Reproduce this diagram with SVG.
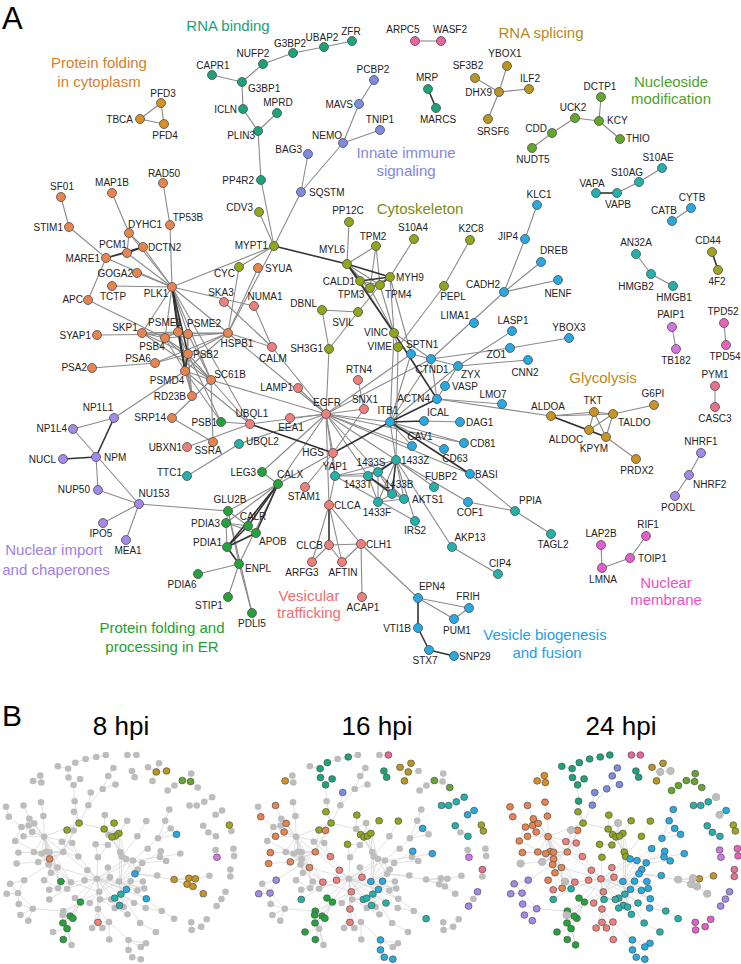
<svg xmlns="http://www.w3.org/2000/svg" xmlns:xlink="http://www.w3.org/1999/xlink" width="741" height="964" viewBox="0 0 741 964" style="--r:4.5px;--sw:0.8;--fs:10px">
<style>
.nd circle{stroke:#4d4d4d;stroke-width:var(--sw);r:var(--r)}
.nd text{font-family:"Liberation Sans",Arial,sans-serif;font-size:var(--fs);fill:#222}
.tm{text-anchor:middle}.te{text-anchor:end}
.c1{fill:#E8844F}.c2{fill:#D8901E}.c3{fill:#1DA37B}.c4{fill:#7E8BE3}.c5{fill:#B9961F}.c6{fill:#63A82B}.c7{fill:#92A61A}.c8{fill:#EE7F7A}.c9{fill:#27A9E1}.c10{fill:#22B2AB}.c11{fill:#C9941F}.c12{fill:#E35FCF}.c13{fill:#A389E9}.c14{fill:#23A33B}.c15{fill:#E8659D}.c16{fill:#A3A51F}.c17{fill:#D075E2}.c18{fill:#E863B6}.c19{fill:#E8708F}
.grp{font-family:"Liberation Sans",Arial,sans-serif;font-size:15px;text-anchor:middle}
.ttl{font-family:"Liberation Sans",Arial,sans-serif;font-size:26px;text-anchor:middle;fill:#000}
.pl{font-family:"Liberation Sans",Arial,sans-serif;fill:#000}
.bn circle{stroke:#555;stroke-width:2}
</style>
<defs>
<path id="gdots" d="M161 103h0M140 119h0M164 124h0M212 75h0M242 82h0M243 109h0M258 131h0M263 64h0M293 53h0M324 47h0M352 41h0M277 113h0M261 180h0M259 212h0M274 246h0M374 80h0M359 104h0M380 130h0M343 143h0M308 154h0M301 192h0M415 41h0M441 41h0M428 89h0M436 108h0M475 78h0M499 92h0M488 119h0M507 66h0M529 89h0M601 97h0M575 118h0M599 121h0M620 139h0M552 133h0M532 148h0M662 168h0M639 182h0M596 193h0M617 193h0M691 208h0M672 221h0M537 205h0M525 239h0M541 262h0M558 280h0M504 292h0M636 254h0M651 274h0M673 286h0M712 252h0M718 270h0M672 327h0M676 349h0M724 323h0M726 345h0M715 386h0M715 407h0M701 453h0M689 475h0M675 496h0M601 545h0M646 536h0M630 558h0M602 568h0M515 511h0M551 534h0M498 574h0M551 416h0M594 412h0M613 414h0M654 405h0M589 430h0M606 437h0M636 459h0M502 404h0M512 331h0M569 338h0M510 348h0M528 360h0M347 264h0M376 246h0M414 239h0M470 240h0M349 222h0M390 277h0M360 281h0M370 288h0M380 285h0M444 286h0M322 310h0M358 312h0M394 333h0M398 347h0M329 349h0M411 354h0M474 323h0M431 359h0M458 366h0M445 386h0M437 399h0M424 421h0M460 422h0M390 422h0M412 446h0M444 449h0M464 443h0M470 474h0M254 306h0M258 268h0M272 347h0M358 380h0M298 388h0M364 409h0M326 414h0M290 418h0M250 424h0M333 453h0M239 444h0M378 472h0M396 460h0M335 476h0M278 484h0M305 487h0M368 476h0M392 494h0M404 499h0M378 502h0M434 487h0M468 502h0M415 521h0M452 547h0M329 505h0M329 545h0M361 544h0M312 562h0M342 562h0M362 597h0M418 598h0M469 608h0M454 619h0M418 628h0M429 650h0M454 656h0M256 533h0M248 526h0M239 564h0M252 613h0M98 490h0M139 504h0M103 523h0M126 540h0M228 511h0M226 523h0M227 547h0M198 574h0M228 597h0M187 476h0M262 472h0M127 253h0M143 247h0M106 258h0M137 273h0M112 286h0M172 287h0M88 300h0M239 267h0M224 302h0M142 333h0M97 335h0M178 332h0M188 334h0M165 338h0M228 333h0M188 354h0M155 363h0M92 368h0M185 371h0M211 380h0M192 396h0M172 418h0M221 422h0M213 442h0M187 447h0M114 418h0M73 429h0M63 459h0M96 457h0M69 227h0M61 197h0M112 193h0M163 183h0M170 225h0M129 233h0"/>
</defs>
<rect width="741" height="964" fill="#fff"/>
<text class="pl" x="2" y="29" font-size="31">A</text>
<text class="pl" x="2" y="726" font-size="30">B</text>

<g id="connectors" fill="none">
<g stroke="#8a8a8a" stroke-width="1.1"><g id="ethin">
<line x1="140" y1="119" x2="161" y2="103"/><line x1="140" y1="119" x2="164" y2="124"/><line x1="161" y1="103" x2="164" y2="124"/>
<line x1="212" y1="75" x2="242" y2="82"/><line x1="242" y1="82" x2="263" y2="64"/><line x1="263" y1="64" x2="293" y2="53"/><line x1="293" y1="53" x2="324" y2="47"/><line x1="324" y1="47" x2="352" y2="41"/><line x1="242" y1="82" x2="243" y2="109"/><line x1="243" y1="109" x2="258" y2="131"/><line x1="258" y1="131" x2="277" y2="113"/><line x1="258" y1="131" x2="261" y2="180"/><line x1="261" y1="180" x2="274" y2="246"/>
<line x1="259" y1="212" x2="274" y2="246"/><line x1="301" y1="192" x2="274" y2="246"/><line x1="374" y1="80" x2="359" y2="104"/><line x1="359" y1="104" x2="343" y2="143"/><line x1="343" y1="143" x2="380" y2="130"/><line x1="343" y1="143" x2="301" y2="192"/><line x1="308" y1="154" x2="301" y2="192"/>
<line x1="415" y1="41" x2="441" y2="41"/>
<line x1="475" y1="78" x2="499" y2="92"/><line x1="499" y1="92" x2="507" y2="66"/><line x1="499" y1="92" x2="529" y2="89"/><line x1="499" y1="92" x2="488" y2="119"/>
<line x1="532" y1="148" x2="552" y2="133"/><line x1="552" y1="133" x2="575" y2="118"/><line x1="575" y1="118" x2="599" y2="121"/><line x1="599" y1="121" x2="601" y2="97"/><line x1="599" y1="121" x2="620" y2="139"/>
<line x1="617" y1="193" x2="639" y2="182"/><line x1="639" y1="182" x2="662" y2="168"/><line x1="672" y1="221" x2="691" y2="208"/>
<line x1="636" y1="254" x2="651" y2="274"/><line x1="651" y1="274" x2="673" y2="286"/><line x1="672" y1="327" x2="676" y2="349"/><line x1="724" y1="323" x2="726" y2="345"/><line x1="715" y1="386" x2="715" y2="407"/><line x1="701" y1="453" x2="689" y2="475"/><line x1="689" y1="475" x2="675" y2="496"/>
<line x1="601" y1="545" x2="602" y2="568"/><line x1="602" y1="568" x2="630" y2="558"/><line x1="630" y1="558" x2="646" y2="536"/>
<line x1="537" y1="205" x2="525" y2="239"/><line x1="525" y1="239" x2="504" y2="292"/><line x1="504" y1="292" x2="541" y2="262"/><line x1="504" y1="292" x2="558" y2="280"/><line x1="504" y1="292" x2="431" y2="359"/>
<line x1="444" y1="286" x2="470" y2="240"/><line x1="444" y1="286" x2="398" y2="347"/><line x1="414" y1="239" x2="390" y2="277"/><line x1="349" y1="222" x2="347" y2="264"/>
<line x1="376" y1="246" x2="347" y2="264"/><line x1="376" y1="246" x2="370" y2="288"/><line x1="376" y1="246" x2="380" y2="285"/><line x1="347" y1="264" x2="370" y2="288"/><line x1="347" y1="264" x2="380" y2="285"/><line x1="390" y1="277" x2="370" y2="288"/><line x1="360" y1="281" x2="370" y2="288"/><line x1="360" y1="281" x2="380" y2="285"/><line x1="370" y1="288" x2="380" y2="285"/><line x1="360" y1="281" x2="394" y2="333"/><line x1="370" y1="288" x2="394" y2="333"/><line x1="380" y1="285" x2="394" y2="333"/><line x1="390" y1="277" x2="394" y2="333"/><line x1="390" y1="277" x2="411" y2="354"/>
<line x1="380" y1="285" x2="358" y2="312"/><line x1="322" y1="310" x2="358" y2="312"/><line x1="322" y1="310" x2="329" y2="349"/><line x1="358" y1="312" x2="329" y2="349"/><line x1="329" y1="349" x2="326" y2="414"/>
<line x1="394" y1="333" x2="398" y2="347"/><line x1="394" y1="333" x2="431" y2="359"/><line x1="394" y1="333" x2="390" y2="422"/><line x1="398" y1="347" x2="396" y2="460"/><line x1="411" y1="354" x2="390" y2="422"/><line x1="411" y1="354" x2="431" y2="359"/>
<line x1="431" y1="359" x2="510" y2="348"/><line x1="510" y1="348" x2="569" y2="338"/><line x1="512" y1="331" x2="458" y2="366"/><line x1="528" y1="360" x2="458" y2="366"/><line x1="431" y1="359" x2="458" y2="366"/><line x1="458" y1="366" x2="445" y2="386"/><line x1="445" y1="386" x2="437" y2="399"/><line x1="431" y1="359" x2="437" y2="399"/><line x1="437" y1="399" x2="502" y2="404"/><line x1="437" y1="399" x2="551" y2="416"/>
<line x1="551" y1="416" x2="594" y2="412"/><line x1="551" y1="416" x2="613" y2="414"/><line x1="551" y1="416" x2="589" y2="430"/><line x1="594" y1="412" x2="613" y2="414"/><line x1="594" y1="412" x2="589" y2="430"/><line x1="594" y1="412" x2="606" y2="437"/><line x1="613" y1="414" x2="589" y2="430"/><line x1="613" y1="414" x2="606" y2="437"/><line x1="613" y1="414" x2="654" y2="405"/><line x1="589" y1="430" x2="606" y2="437"/><line x1="606" y1="437" x2="636" y2="459"/>
<line x1="390" y1="422" x2="431" y2="359"/><line x1="390" y1="422" x2="458" y2="366"/><line x1="424" y1="421" x2="460" y2="422"/><line x1="390" y1="422" x2="412" y2="446"/><line x1="390" y1="422" x2="464" y2="443"/><line x1="390" y1="422" x2="444" y2="449"/><line x1="390" y1="422" x2="326" y2="414"/><line x1="390" y1="422" x2="396" y2="460"/>
<line x1="326" y1="414" x2="298" y2="388"/><line x1="326" y1="414" x2="290" y2="418"/><line x1="326" y1="414" x2="250" y2="424"/><line x1="326" y1="414" x2="364" y2="409"/><line x1="326" y1="414" x2="333" y2="453"/><line x1="326" y1="414" x2="335" y2="476"/><line x1="326" y1="414" x2="378" y2="472"/><line x1="326" y1="414" x2="396" y2="460"/><line x1="326" y1="414" x2="329" y2="505"/><line x1="326" y1="414" x2="411" y2="354"/><line x1="326" y1="414" x2="431" y2="359"/><line x1="326" y1="414" x2="412" y2="446"/><line x1="326" y1="414" x2="464" y2="443"/><line x1="326" y1="414" x2="211" y2="380"/><line x1="326" y1="414" x2="228" y2="333"/><line x1="326" y1="414" x2="272" y2="347"/><line x1="326" y1="414" x2="262" y2="472"/><line x1="326" y1="414" x2="278" y2="484"/><line x1="326" y1="414" x2="239" y2="444"/><line x1="326" y1="414" x2="470" y2="474"/><line x1="326" y1="414" x2="368" y2="476"/>
<line x1="358" y1="380" x2="364" y2="409"/><line x1="364" y1="409" x2="333" y2="453"/><line x1="333" y1="453" x2="305" y2="487"/><line x1="333" y1="453" x2="278" y2="484"/><line x1="333" y1="453" x2="335" y2="476"/><line x1="239" y1="444" x2="187" y2="476"/><line x1="187" y1="447" x2="250" y2="424"/>
<line x1="335" y1="476" x2="378" y2="472"/><line x1="335" y1="476" x2="368" y2="476"/><line x1="335" y1="476" x2="329" y2="505"/><line x1="335" y1="476" x2="396" y2="460"/><line x1="335" y1="476" x2="415" y2="521"/>
<line x1="378" y1="472" x2="368" y2="476"/><line x1="378" y1="472" x2="392" y2="494"/><line x1="378" y1="472" x2="378" y2="502"/><line x1="396" y1="460" x2="368" y2="476"/><line x1="396" y1="460" x2="378" y2="502"/><line x1="396" y1="460" x2="404" y2="499"/><line x1="368" y1="476" x2="378" y2="502"/><line x1="392" y1="494" x2="378" y2="502"/><line x1="392" y1="494" x2="404" y2="499"/><line x1="378" y1="502" x2="404" y2="499"/><line x1="368" y1="476" x2="404" y2="499"/><line x1="378" y1="472" x2="404" y2="499"/><line x1="396" y1="460" x2="415" y2="521"/><line x1="396" y1="460" x2="434" y2="487"/><line x1="396" y1="460" x2="468" y2="502"/><line x1="396" y1="460" x2="452" y2="547"/>
<line x1="468" y1="502" x2="515" y2="511"/><line x1="470" y1="474" x2="515" y2="511"/><line x1="515" y1="511" x2="551" y2="534"/><line x1="452" y1="547" x2="498" y2="574"/>
<line x1="329" y1="505" x2="361" y2="544"/><line x1="329" y1="505" x2="312" y2="562"/><line x1="329" y1="505" x2="342" y2="562"/><line x1="329" y1="545" x2="361" y2="544"/><line x1="329" y1="545" x2="312" y2="562"/><line x1="329" y1="545" x2="342" y2="562"/><line x1="361" y1="544" x2="342" y2="562"/><line x1="361" y1="544" x2="362" y2="597"/><line x1="361" y1="544" x2="418" y2="598"/>
<line x1="418" y1="598" x2="469" y2="608"/><line x1="418" y1="598" x2="454" y2="619"/><line x1="469" y1="608" x2="454" y2="619"/>
<line x1="98" y1="490" x2="96" y2="457"/><line x1="139" y1="504" x2="73" y2="429"/><line x1="98" y1="490" x2="139" y2="504"/><line x1="139" y1="504" x2="103" y2="523"/><line x1="139" y1="504" x2="126" y2="540"/><line x1="139" y1="504" x2="228" y2="511"/><line x1="73" y1="429" x2="114" y2="418"/><line x1="114" y1="418" x2="185" y2="371"/>
<line x1="228" y1="511" x2="278" y2="484"/><line x1="228" y1="511" x2="248" y2="526"/><line x1="228" y1="511" x2="226" y2="523"/><line x1="228" y1="511" x2="239" y2="564"/><line x1="226" y1="523" x2="248" y2="526"/><line x1="226" y1="523" x2="227" y2="547"/><line x1="226" y1="523" x2="278" y2="484"/><line x1="226" y1="523" x2="256" y2="533"/><line x1="198" y1="574" x2="239" y2="564"/><line x1="228" y1="597" x2="239" y2="564"/><line x1="239" y1="564" x2="252" y2="613"/><line x1="239" y1="564" x2="278" y2="484"/><line x1="248" y1="526" x2="256" y2="533"/><line x1="262" y1="472" x2="278" y2="484"/><line x1="228" y1="511" x2="252" y2="613"/>
<line x1="172" y1="287" x2="170" y2="225"/><line x1="172" y1="287" x2="129" y2="233"/><line x1="172" y1="287" x2="127" y2="253"/><line x1="172" y1="287" x2="143" y2="247"/><line x1="172" y1="287" x2="106" y2="258"/><line x1="172" y1="287" x2="137" y2="273"/><line x1="172" y1="287" x2="112" y2="286"/><line x1="172" y1="287" x2="274" y2="246"/><line x1="172" y1="287" x2="254" y2="306"/><line x1="172" y1="287" x2="188" y2="334"/><line x1="172" y1="287" x2="165" y2="338"/><line x1="172" y1="287" x2="192" y2="396"/><line x1="172" y1="287" x2="211" y2="380"/><line x1="172" y1="287" x2="142" y2="333"/><line x1="172" y1="287" x2="228" y2="333"/><line x1="172" y1="287" x2="250" y2="424"/>
<line x1="129" y1="233" x2="127" y2="253"/><line x1="129" y1="233" x2="143" y2="247"/><line x1="112" y1="193" x2="129" y2="233"/><line x1="163" y1="183" x2="170" y2="225"/><line x1="61" y1="197" x2="69" y2="227"/><line x1="69" y1="227" x2="106" y2="258"/><line x1="106" y1="258" x2="127" y2="253"/><line x1="106" y1="258" x2="88" y2="300"/><line x1="88" y1="300" x2="165" y2="338"/>
<line x1="97" y1="335" x2="188" y2="334"/><line x1="92" y1="368" x2="155" y2="363"/><line x1="155" y1="363" x2="228" y2="333"/><line x1="155" y1="363" x2="188" y2="354"/>
<line x1="178" y1="332" x2="188" y2="334"/><line x1="178" y1="332" x2="165" y2="338"/><line x1="178" y1="332" x2="188" y2="354"/><line x1="188" y1="334" x2="188" y2="354"/><line x1="188" y1="334" x2="185" y2="371"/><line x1="188" y1="334" x2="228" y2="333"/><line x1="165" y1="338" x2="228" y2="333"/><line x1="142" y1="333" x2="178" y2="332"/><line x1="142" y1="333" x2="165" y2="338"/><line x1="142" y1="333" x2="228" y2="333"/><line x1="142" y1="333" x2="188" y2="354"/><line x1="142" y1="333" x2="211" y2="380"/><line x1="188" y1="354" x2="228" y2="333"/><line x1="188" y1="354" x2="211" y2="380"/><line x1="185" y1="371" x2="211" y2="380"/><line x1="165" y1="338" x2="188" y2="354"/><line x1="165" y1="338" x2="185" y2="371"/><line x1="165" y1="338" x2="211" y2="380"/><line x1="192" y1="396" x2="178" y2="332"/><line x1="192" y1="396" x2="188" y2="354"/><line x1="192" y1="396" x2="185" y2="371"/><line x1="185" y1="371" x2="228" y2="333"/><line x1="188" y1="354" x2="250" y2="424"/><line x1="185" y1="371" x2="250" y2="424"/><line x1="188" y1="334" x2="211" y2="380"/><line x1="221" y1="422" x2="188" y2="354"/><line x1="221" y1="422" x2="185" y2="371"/><line x1="221" y1="422" x2="250" y2="424"/>
<line x1="211" y1="380" x2="213" y2="442"/><line x1="172" y1="418" x2="211" y2="380"/><line x1="172" y1="418" x2="213" y2="442"/>
<line x1="228" y1="333" x2="258" y2="268"/><line x1="228" y1="333" x2="239" y2="267"/><line x1="239" y1="267" x2="274" y2="246"/><line x1="228" y1="333" x2="274" y2="246"/><line x1="228" y1="333" x2="272" y2="347"/><line x1="272" y1="347" x2="254" y2="306"/><line x1="224" y1="302" x2="272" y2="347"/>
</g></g>
<g stroke="#333" stroke-width="1.6"><g id="ethick">
<line x1="274" y1="246" x2="347" y2="264"/><line x1="347" y1="264" x2="390" y2="277"/><line x1="347" y1="264" x2="394" y2="333"/><line x1="347" y1="264" x2="360" y2="281"/><line x1="390" y1="277" x2="360" y2="281"/><line x1="390" y1="277" x2="380" y2="285"/>
<line x1="394" y1="333" x2="437" y2="399"/><line x1="390" y1="422" x2="437" y2="399"/><line x1="390" y1="422" x2="424" y2="421"/><line x1="390" y1="422" x2="470" y2="474"/><line x1="390" y1="422" x2="333" y2="453"/><line x1="333" y1="453" x2="250" y2="424"/>
<line x1="396" y1="460" x2="392" y2="494"/><line x1="368" y1="476" x2="392" y2="494"/><line x1="378" y1="472" x2="396" y2="460"/>
<line x1="96" y1="457" x2="63" y2="459"/><line x1="96" y1="457" x2="114" y2="418"/>
<line x1="278" y1="484" x2="248" y2="526"/><line x1="278" y1="484" x2="256" y2="533"/><line x1="278" y1="484" x2="227" y2="547"/><line x1="227" y1="547" x2="239" y2="564"/><line x1="227" y1="547" x2="248" y2="526"/><line x1="227" y1="547" x2="256" y2="533"/>
<line x1="418" y1="598" x2="418" y2="628"/><line x1="418" y1="628" x2="429" y2="650"/><line x1="429" y1="650" x2="454" y2="656"/>
<line x1="551" y1="416" x2="606" y2="437"/><line x1="106" y1="258" x2="143" y2="247"/><line x1="127" y1="253" x2="143" y2="247"/>
<line x1="172" y1="287" x2="178" y2="332"/><line x1="172" y1="287" x2="188" y2="354"/><line x1="172" y1="287" x2="185" y2="371"/><line x1="178" y1="332" x2="185" y2="371"/><line x1="188" y1="354" x2="185" y2="371"/>
<line x1="329" y1="505" x2="329" y2="545"/><line x1="428" y1="89" x2="436" y2="108"/><line x1="596" y1="193" x2="617" y2="193"/><line x1="712" y1="252" x2="718" y2="270"/>
</g></g>
</g>

<g id="nodes">
<g id="n-PFD3" class="nd"><circle class="c2" cx="161" cy="103" r="4.5"/><text class="tm" x="163" y="97">PFD3</text></g>
<g id="n-TBCA" class="nd"><circle class="c2" cx="140" cy="119" r="4.5"/><text class="te" x="133" y="123">TBCA</text></g>
<g id="n-PFD4" class="nd"><circle class="c2" cx="164" cy="124" r="4.5"/><text class="tm" x="165" y="139">PFD4</text></g>
<g id="n-CAPR1" class="nd"><circle class="c3" cx="212" cy="75" r="4.5"/><text class="tm" x="213" y="69">CAPR1</text></g>
<g id="n-G3BP1" class="nd"><circle class="c3" cx="242" cy="82" r="4.5"/><text x="248" y="92">G3BP1</text></g>
<g id="n-ICLN" class="nd"><circle class="c3" cx="243" cy="109" r="4.5"/><text class="te" x="237" y="113">ICLN</text></g>
<g id="n-PLIN3" class="nd"><circle class="c3" cx="258" cy="131" r="4.5"/><text class="te" x="255" y="139">PLIN3</text></g>
<g id="n-NUFP2" class="nd"><circle class="c3" cx="263" cy="64" r="4.5"/><text class="tm" x="253" y="57">NUFP2</text></g>
<g id="n-G3BP2" class="nd"><circle class="c3" cx="293" cy="53" r="4.5"/><text class="tm" x="290" y="47">G3BP2</text></g>
<g id="n-UBAP2" class="nd"><circle class="c3" cx="324" cy="47" r="4.5"/><text class="tm" x="322" y="41">UBAP2</text></g>
<g id="n-ZFR" class="nd"><circle class="c3" cx="352" cy="41" r="4.5"/><text class="tm" x="351" y="35">ZFR</text></g>
<g id="n-MPRD" class="nd"><circle class="c3" cx="277" cy="113" r="4.5"/><text class="tm" x="278" y="106">MPRD</text></g>
<g id="n-PP4R2" class="nd"><circle class="c3" cx="261" cy="180" r="4.5"/><text class="te" x="254" y="184">PP4R2</text></g>
<g id="n-CDV3" class="nd"><circle class="c7" cx="259" cy="212" r="4.5"/><text class="te" x="253" y="211">CDV3</text></g>
<g id="n-MYPT1" class="nd"><circle class="c7" cx="274" cy="246" r="4.5"/><text class="te" x="268" y="249">MYPT1</text></g>
<g id="n-PCBP2" class="nd"><circle class="c4" cx="374" cy="80" r="4.5"/><text class="tm" x="373" y="73">PCBP2</text></g>
<g id="n-MAVS" class="nd"><circle class="c4" cx="359" cy="104" r="4.5"/><text class="te" x="353" y="108">MAVS</text></g>
<g id="n-TNIP1" class="nd"><circle class="c4" cx="380" cy="130" r="4.5"/><text class="tm" x="380" y="123">TNIP1</text></g>
<g id="n-NEMO" class="nd"><circle class="c4" cx="343" cy="143" r="4.5"/><text class="tm" x="327" y="139">NEMO</text></g>
<g id="n-BAG3" class="nd"><circle class="c4" cx="308" cy="154" r="4.5"/><text class="te" x="302" y="153">BAG3</text></g>
<g id="n-SQSTM" class="nd"><circle class="c4" cx="301" cy="192" r="4.5"/><text x="309" y="196">SQSTM</text></g>
<g id="n-ARPC5" class="nd"><circle class="c15" cx="415" cy="41" r="4.5"/><text class="tm" x="403" y="33">ARPC5</text></g>
<g id="n-WASF2" class="nd"><circle class="c15" cx="441" cy="41" r="4.5"/><text class="tm" x="450" y="33">WASF2</text></g>
<g id="n-MRP" class="nd"><circle class="c3" cx="428" cy="89" r="4.5"/><text class="tm" x="427" y="81">MRP</text></g>
<g id="n-MARCS" class="nd"><circle class="c3" cx="436" cy="108" r="4.5"/><text class="tm" x="438" y="123">MARCS</text></g>
<g id="n-SF3B2" class="nd"><circle class="c5" cx="475" cy="78" r="4.5"/><text class="tm" x="468" y="69">SF3B2</text></g>
<g id="n-DHX9" class="nd"><circle class="c5" cx="499" cy="92" r="4.5"/><text class="te" x="492" y="96">DHX9</text></g>
<g id="n-SRSF6" class="nd"><circle class="c5" cx="488" cy="119" r="4.5"/><text class="tm" x="493" y="135">SRSF6</text></g>
<g id="n-YBOX1" class="nd"><circle class="c5" cx="507" cy="66" r="4.5"/><text class="tm" x="505" y="57">YBOX1</text></g>
<g id="n-ILF2" class="nd"><circle class="c5" cx="529" cy="89" r="4.5"/><text class="tm" x="530" y="82">ILF2</text></g>
<g id="n-DCTP1" class="nd"><circle class="c6" cx="601" cy="97" r="4.5"/><text class="tm" x="600" y="90">DCTP1</text></g>
<g id="n-UCK2" class="nd"><circle class="c6" cx="575" cy="118" r="4.5"/><text class="tm" x="573" y="111">UCK2</text></g>
<g id="n-KCY" class="nd"><circle class="c6" cx="599" cy="121" r="4.5"/><text x="607" y="124">KCY</text></g>
<g id="n-THIO" class="nd"><circle class="c6" cx="620" cy="139" r="4.5"/><text x="626" y="142">THIO</text></g>
<g id="n-CDD" class="nd"><circle class="c6" cx="552" cy="133" r="4.5"/><text class="te" x="547" y="132">CDD</text></g>
<g id="n-NUDT5" class="nd"><circle class="c6" cx="532" cy="148" r="4.5"/><text class="tm" x="533" y="163">NUDT5</text></g>
<g id="n-S10AE" class="nd"><circle class="c10" cx="662" cy="168" r="4.5"/><text class="tm" x="658" y="161">S10AE</text></g>
<g id="n-S10AG" class="nd"><circle class="c10" cx="639" cy="182" r="4.5"/><text class="tm" x="627" y="176">S10AG</text></g>
<g id="n-VAPA" class="nd"><circle class="c10" cx="596" cy="193" r="4.5"/><text class="tm" x="592" y="187">VAPA</text></g>
<g id="n-VAPB" class="nd"><circle class="c10" cx="617" cy="193" r="4.5"/><text class="tm" x="618" y="208">VAPB</text></g>
<g id="n-CYTB" class="nd"><circle class="c9" cx="691" cy="208" r="4.5"/><text class="tm" x="692" y="201">CYTB</text></g>
<g id="n-CATB" class="nd"><circle class="c9" cx="672" cy="221" r="4.5"/><text class="tm" x="664" y="214">CATB</text></g>
<g id="n-KLC1" class="nd"><circle class="c9" cx="537" cy="205" r="4.5"/><text class="tm" x="539" y="198">KLC1</text></g>
<g id="n-JIP4" class="nd"><circle class="c9" cx="525" cy="239" r="4.5"/><text class="te" x="518" y="240">JIP4</text></g>
<g id="n-DREB" class="nd"><circle class="c9" cx="541" cy="262" r="4.5"/><text class="tm" x="554" y="254">DREB</text></g>
<g id="n-NENF" class="nd"><circle class="c9" cx="558" cy="280" r="4.5"/><text class="tm" x="558" y="297">NENF</text></g>
<g id="n-CADH2" class="nd"><circle class="c9" cx="504" cy="292" r="4.5"/><text class="te" x="500" y="288">CADH2</text></g>
<g id="n-AN32A" class="nd"><circle class="c10" cx="636" cy="254" r="4.5"/><text class="tm" x="636" y="246">AN32A</text></g>
<g id="n-HMGB2" class="nd"><circle class="c10" cx="651" cy="274" r="4.5"/><text class="tm" x="636" y="290">HMGB2</text></g>
<g id="n-HMGB1" class="nd"><circle class="c10" cx="673" cy="286" r="4.5"/><text class="tm" x="674" y="301">HMGB1</text></g>
<g id="n-CD44" class="nd"><circle class="c16" cx="712" cy="252" r="4.5"/><text class="tm" x="708" y="244">CD44</text></g>
<g id="n-4F2" class="nd"><circle class="c16" cx="718" cy="270" r="4.5"/><text class="tm" x="717" y="285">4F2</text></g>
<g id="n-PAIP1" class="nd"><circle class="c17" cx="672" cy="327" r="4.5"/><text class="tm" x="671" y="318">PAIP1</text></g>
<g id="n-TB182" class="nd"><circle class="c17" cx="676" cy="349" r="4.5"/><text class="tm" x="676" y="364">TB182</text></g>
<g id="n-TPD52" class="nd"><circle class="c18" cx="724" cy="323" r="4.5"/><text class="tm" x="723" y="315">TPD52</text></g>
<g id="n-TPD54" class="nd"><circle class="c18" cx="726" cy="345" r="4.5"/><text class="tm" x="725" y="360">TPD54</text></g>
<g id="n-PYM1" class="nd"><circle class="c19" cx="715" cy="386" r="4.5"/><text class="tm" x="715" y="378">PYM1</text></g>
<g id="n-CASC3" class="nd"><circle class="c19" cx="715" cy="407" r="4.5"/><text class="tm" x="715" y="422">CASC3</text></g>
<g id="n-NHRF1" class="nd"><circle class="c13" cx="701" cy="453" r="4.5"/><text class="tm" x="701" y="445">NHRF1</text></g>
<g id="n-NHRF2" class="nd"><circle class="c13" cx="689" cy="475" r="4.5"/><text x="693" y="488">NHRF2</text></g>
<g id="n-PODXL" class="nd"><circle class="c13" cx="675" cy="496" r="4.5"/><text class="tm" x="678" y="511">PODXL</text></g>
<g id="n-LAP2B" class="nd"><circle class="c12" cx="601" cy="545" r="4.5"/><text class="tm" x="601" y="537">LAP2B</text></g>
<g id="n-RIF1" class="nd"><circle class="c12" cx="646" cy="536" r="4.5"/><text class="tm" x="648" y="528">RIF1</text></g>
<g id="n-TOIP1" class="nd"><circle class="c12" cx="630" cy="558" r="4.5"/><text x="638" y="562">TOIP1</text></g>
<g id="n-LMNA" class="nd"><circle class="c12" cx="602" cy="568" r="4.5"/><text class="tm" x="603" y="583">LMNA</text></g>
<g id="n-PPIA" class="nd"><circle class="c10" cx="515" cy="511" r="4.5"/><text x="519" y="504">PPIA</text></g>
<g id="n-TAGL2" class="nd"><circle class="c10" cx="551" cy="534" r="4.5"/><text class="tm" x="553" y="548">TAGL2</text></g>
<g id="n-CIP4" class="nd"><circle class="c10" cx="498" cy="574" r="4.5"/><text class="tm" x="500" y="567">CIP4</text></g>
<g id="n-ALDOA" class="nd"><circle class="c11" cx="551" cy="416" r="4.5"/><text class="tm" x="548" y="410">ALDOA</text></g>
<g id="n-TKT" class="nd"><circle class="c11" cx="594" cy="412" r="4.5"/><text class="tm" x="593" y="404">TKT</text></g>
<g id="n-TALDO" class="nd"><circle class="c11" cx="613" cy="414" r="4.5"/><text x="618" y="426">TALDO</text></g>
<g id="n-G6PI" class="nd"><circle class="c11" cx="654" cy="405" r="4.5"/><text class="tm" x="653" y="397">G6PI</text></g>
<g id="n-ALDOC" class="nd"><circle class="c11" cx="589" cy="430" r="4.5"/><text class="tm" x="566" y="443">ALDOC</text></g>
<g id="n-KPYM" class="nd"><circle class="c11" cx="606" cy="437" r="4.5"/><text class="tm" x="594" y="452">KPYM</text></g>
<g id="n-PRDX2" class="nd"><circle class="c11" cx="636" cy="459" r="4.5"/><text class="tm" x="637" y="474">PRDX2</text></g>
<g id="n-LMO7" class="nd"><circle class="c9" cx="502" cy="404" r="4.5"/><text class="tm" x="493" y="398">LMO7</text></g>
<g id="n-LASP1" class="nd"><circle class="c9" cx="512" cy="331" r="4.5"/><text class="tm" x="513" y="324">LASP1</text></g>
<g id="n-YBOX3" class="nd"><circle class="c9" cx="569" cy="338" r="4.5"/><text class="tm" x="569" y="331">YBOX3</text></g>
<g id="n-ZO1" class="nd"><circle class="c9" cx="510" cy="348" r="4.5"/><text class="te" x="506" y="358">ZO1</text></g>
<g id="n-CNN2" class="nd"><circle class="c9" cx="528" cy="360" r="4.5"/><text class="tm" x="525" y="376">CNN2</text></g>
<g id="n-MYL6" class="nd"><circle class="c7" cx="347" cy="264" r="4.5"/><text class="tm" x="332" y="253">MYL6</text></g>
<g id="n-TPM2" class="nd"><circle class="c7" cx="376" cy="246" r="4.5"/><text class="tm" x="373" y="240">TPM2</text></g>
<g id="n-S10A4" class="nd"><circle class="c7" cx="414" cy="239" r="4.5"/><text class="tm" x="413" y="231">S10A4</text></g>
<g id="n-K2C8" class="nd"><circle class="c7" cx="470" cy="240" r="4.5"/><text class="tm" x="471" y="232">K2C8</text></g>
<g id="n-PP12C" class="nd"><circle class="c7" cx="349" cy="222" r="4.5"/><text class="tm" x="348" y="214">PP12C</text></g>
<g id="n-MYH9" class="nd"><circle class="c7" cx="390" cy="277" r="4.5"/><text x="396" y="281">MYH9</text></g>
<g id="n-CALD1" class="nd"><circle class="c7" cx="360" cy="281" r="4.5"/><text class="te" x="355" y="285">CALD1</text></g>
<g id="n-TPM3" class="nd"><circle class="c7" cx="370" cy="288" r="4.5"/><text class="tm" x="351" y="298">TPM3</text></g>
<g id="n-TPM4" class="nd"><circle class="c7" cx="380" cy="285" r="4.5"/><text x="385" y="298">TPM4</text></g>
<g id="n-PEPL" class="nd"><circle class="c7" cx="444" cy="286" r="4.5"/><text class="tm" x="453" y="300">PEPL</text></g>
<g id="n-DBNL" class="nd"><circle class="c7" cx="322" cy="310" r="4.5"/><text class="te" x="317" y="307">DBNL</text></g>
<g id="n-SVIL" class="nd"><circle class="c7" cx="358" cy="312" r="4.5"/><text class="tm" x="343" y="326">SVIL</text></g>
<g id="n-VINC" class="nd"><circle class="c7" cx="394" cy="333" r="4.5"/><text class="te" x="388" y="336">VINC</text></g>
<g id="n-VIME" class="nd"><circle class="c7" cx="398" cy="347" r="4.5"/><text class="te" x="392" y="350">VIME</text></g>
<g id="n-SH3G1" class="nd"><circle class="c7" cx="329" cy="349" r="4.5"/><text class="te" x="323" y="352">SH3G1</text></g>
<g id="n-SPTN1" class="nd"><circle class="c9" cx="411" cy="354" r="4.5"/><text x="406" y="348">SPTN1</text></g>
<g id="n-LIMA1" class="nd"><circle class="c9" cx="474" cy="323" r="4.5"/><text class="tm" x="455" y="319">LIMA1</text></g>
<g id="n-CTND1" class="nd"><circle class="c9" cx="431" cy="359" r="4.5"/><text class="tm" x="432" y="373">CTND1</text></g>
<g id="n-ZYX" class="nd"><circle class="c9" cx="458" cy="366" r="4.5"/><text x="461" y="378">ZYX</text></g>
<g id="n-VASP" class="nd"><circle class="c9" cx="445" cy="386" r="4.5"/><text x="452" y="390">VASP</text></g>
<g id="n-ACTN4" class="nd"><circle class="c9" cx="437" cy="399" r="4.5"/><text class="te" x="430" y="402">ACTN4</text></g>
<g id="n-ICAL" class="nd"><circle class="c9" cx="424" cy="421" r="4.5"/><text class="tm" x="438" y="416">ICAL</text></g>
<g id="n-DAG1" class="nd"><circle class="c9" cx="460" cy="422" r="4.5"/><text x="466" y="426">DAG1</text></g>
<g id="n-ITB1" class="nd"><circle class="c9" cx="390" cy="422" r="4.5"/><text class="tm" x="388" y="414">ITB1</text></g>
<g id="n-CAV1" class="nd"><circle class="c9" cx="412" cy="446" r="4.5"/><text class="tm" x="420" y="440">CAV1</text></g>
<g id="n-CD63" class="nd"><circle class="c9" cx="444" cy="449" r="4.5"/><text class="tm" x="455" y="462">CD63</text></g>
<g id="n-CD81" class="nd"><circle class="c9" cx="464" cy="443" r="4.5"/><text x="470" y="447">CD81</text></g>
<g id="n-BASI" class="nd"><circle class="c9" cx="470" cy="474" r="4.5"/><text x="475" y="478">BASI</text></g>
<g id="n-NUMA1" class="nd"><circle class="c8" cx="254" cy="306" r="4.5"/><text class="tm" x="265" y="300">NUMA1</text></g>
<g id="n-SYUA" class="nd"><circle class="c1" cx="258" cy="268" r="4.5"/><text x="265" y="272">SYUA</text></g>
<g id="n-CALM" class="nd"><circle class="c8" cx="272" cy="347" r="4.5"/><text class="tm" x="273" y="362">CALM</text></g>
<g id="n-RTN4" class="nd"><circle class="c8" cx="358" cy="380" r="4.5"/><text class="tm" x="359" y="373">RTN4</text></g>
<g id="n-LAMP1" class="nd"><circle class="c8" cx="298" cy="388" r="4.5"/><text class="te" x="293" y="391">LAMP1</text></g>
<g id="n-SNX1" class="nd"><circle class="c8" cx="364" cy="409" r="4.5"/><text class="tm" x="365" y="403">SNX1</text></g>
<g id="n-EGFR" class="nd"><circle class="c8" cx="326" cy="414" r="4.5"/><text class="tm" x="327" y="406">EGFR</text></g>
<g id="n-EEA1" class="nd"><circle class="c8" cx="290" cy="418" r="4.5"/><text class="tm" x="291" y="431">EEA1</text></g>
<g id="n-UBQL1" class="nd"><circle class="c8" cx="250" cy="424" r="4.5"/><text class="tm" x="252" y="417">UBQL1</text></g>
<g id="n-HGS" class="nd"><circle class="c8" cx="333" cy="453" r="4.5"/><text class="te" x="324" y="456">HGS</text></g>
<g id="n-UBQL2" class="nd"><circle class="c10" cx="239" cy="444" r="4.5"/><text x="246" y="445">UBQL2</text></g>
<g id="n-1433S" class="nd"><circle class="c10" cx="378" cy="472" r="4.5"/><text class="tm" x="371" y="466">1433S</text></g>
<g id="n-1433Z" class="nd"><circle class="c10" cx="396" cy="460" r="4.5"/><text x="401" y="464">1433Z</text></g>
<g id="n-YAP1" class="nd"><circle class="c10" cx="335" cy="476" r="4.5"/><text class="tm" x="335" y="470">YAP1</text></g>
<g id="n-CALX" class="nd"><circle class="c14" cx="278" cy="484" r="4.5"/><text class="tm" x="290" y="478">CALX</text></g>
<g id="n-STAM1" class="nd"><circle class="c8" cx="305" cy="487" r="4.5"/><text class="tm" x="304" y="500">STAM1</text></g>
<g id="n-1433T" class="nd"><circle class="c10" cx="368" cy="476" r="4.5"/><text class="tm" x="358" y="488">1433T</text></g>
<g id="n-1433B" class="nd"><circle class="c10" cx="392" cy="494" r="4.5"/><text class="tm" x="399" y="488">1433B</text></g>
<g id="n-AKTS1" class="nd"><circle class="c10" cx="404" cy="499" r="4.5"/><text x="412" y="503">AKTS1</text></g>
<g id="n-1433F" class="nd"><circle class="c10" cx="378" cy="502" r="4.5"/><text class="tm" x="377" y="516">1433F</text></g>
<g id="n-FUBP2" class="nd"><circle class="c10" cx="434" cy="487" r="4.5"/><text class="tm" x="441" y="480">FUBP2</text></g>
<g id="n-COF1" class="nd"><circle class="c9" cx="468" cy="502" r="4.5"/><text class="tm" x="470" y="516">COF1</text></g>
<g id="n-IRS2" class="nd"><circle class="c10" cx="415" cy="521" r="4.5"/><text class="tm" x="415" y="534">IRS2</text></g>
<g id="n-AKP13" class="nd"><circle class="c10" cx="452" cy="547" r="4.5"/><text class="tm" x="470" y="541">AKP13</text></g>
<g id="n-CLCA" class="nd"><circle class="c8" cx="329" cy="505" r="4.5"/><text x="334" y="509">CLCA</text></g>
<g id="n-CLCB" class="nd"><circle class="c8" cx="329" cy="545" r="4.5"/><text class="te" x="323" y="549">CLCB</text></g>
<g id="n-CLH1" class="nd"><circle class="c8" cx="361" cy="544" r="4.5"/><text x="366" y="548">CLH1</text></g>
<g id="n-ARFG3" class="nd"><circle class="c8" cx="312" cy="562" r="4.5"/><text class="tm" x="302" y="576">ARFG3</text></g>
<g id="n-AFTIN" class="nd"><circle class="c8" cx="342" cy="562" r="4.5"/><text class="tm" x="343" y="576">AFTIN</text></g>
<g id="n-ACAP1" class="nd"><circle class="c8" cx="362" cy="597" r="4.5"/><text class="tm" x="363" y="611">ACAP1</text></g>
<g id="n-EPN4" class="nd"><circle class="c9" cx="418" cy="598" r="4.5"/><text class="tm" x="432" y="590">EPN4</text></g>
<g id="n-FRIH" class="nd"><circle class="c9" cx="469" cy="608" r="4.5"/><text class="tm" x="468" y="600">FRIH</text></g>
<g id="n-PUM1" class="nd"><circle class="c9" cx="454" cy="619" r="4.5"/><text class="tm" x="457" y="634">PUM1</text></g>
<g id="n-VTI1B" class="nd"><circle class="c9" cx="418" cy="628" r="4.5"/><text class="te" x="411" y="632">VTI1B</text></g>
<g id="n-STX7" class="nd"><circle class="c9" cx="429" cy="650" r="4.5"/><text class="tm" x="425" y="664">STX7</text></g>
<g id="n-SNP29" class="nd"><circle class="c9" cx="454" cy="656" r="4.5"/><text x="459" y="660">SNP29</text></g>
<g id="n-APOB" class="nd"><circle class="c14" cx="256" cy="533" r="4.5"/><text x="259" y="545">APOB</text></g>
<g id="n-CALR" class="nd"><circle class="c14" cx="248" cy="526" r="4.5"/><text class="tm" x="253" y="520">CALR</text></g>
<g id="n-ENPL" class="nd"><circle class="c14" cx="239" cy="564" r="4.5"/><text x="245" y="572">ENPL</text></g>
<g id="n-PDLI5" class="nd"><circle class="c14" cx="252" cy="613" r="4.5"/><text class="tm" x="252" y="627">PDLI5</text></g>
<g id="n-NUP50" class="nd"><circle class="c13" cx="98" cy="490" r="4.5"/><text class="te" x="90" y="493">NUP50</text></g>
<g id="n-NU153" class="nd"><circle class="c13" cx="139" cy="504" r="4.5"/><text class="tm" x="154" y="497">NU153</text></g>
<g id="n-IPO5" class="nd"><circle class="c13" cx="103" cy="523" r="4.5"/><text class="tm" x="101" y="537">IPO5</text></g>
<g id="n-MEA1" class="nd"><circle class="c13" cx="126" cy="540" r="4.5"/><text class="tm" x="128" y="554">MEA1</text></g>
<g id="n-GLU2B" class="nd"><circle class="c14" cx="228" cy="511" r="4.5"/><text class="tm" x="230" y="503">GLU2B</text></g>
<g id="n-PDIA3" class="nd"><circle class="c14" cx="226" cy="523" r="4.5"/><text class="te" x="220" y="527">PDIA3</text></g>
<g id="n-PDIA1" class="nd"><circle class="c14" cx="227" cy="547" r="4.5"/><text class="te" x="222" y="546">PDIA1</text></g>
<g id="n-PDIA6" class="nd"><circle class="c14" cx="198" cy="574" r="4.5"/><text class="tm" x="182" y="588">PDIA6</text></g>
<g id="n-STIP1" class="nd"><circle class="c14" cx="228" cy="597" r="4.5"/><text class="tm" x="209" y="609">STIP1</text></g>
<g id="n-TTC1" class="nd"><circle class="c10" cx="187" cy="476" r="4.5"/><text class="te" x="182" y="476">TTC1</text></g>
<g id="n-LEG3" class="nd"><circle class="c14" cx="262" cy="472" r="4.5"/><text class="te" x="256" y="476">LEG3</text></g>
<g id="n-PCM1" class="nd"><circle class="c1" cx="127" cy="253" r="4.5"/><text class="tm" x="113" y="248">PCM1</text></g>
<g id="n-DCTN2" class="nd"><circle class="c1" cx="143" cy="247" r="4.5"/><text x="148" y="251">DCTN2</text></g>
<g id="n-MARE1" class="nd"><circle class="c1" cx="106" cy="258" r="4.5"/><text class="te" x="100" y="262">MARE1</text></g>
<g id="n-GOGA2" class="nd"><circle class="c1" cx="137" cy="273" r="4.5"/><text class="te" x="133" y="277">GOGA2</text></g>
<g id="n-TCTP" class="nd"><circle class="c1" cx="112" cy="286" r="4.5"/><text class="tm" x="113" y="300">TCTP</text></g>
<g id="n-PLK1" class="nd"><circle class="c1" cx="172" cy="287" r="4.5"/><text class="tm" x="156" y="297">PLK1</text></g>
<g id="n-APC" class="nd"><circle class="c1" cx="88" cy="300" r="4.5"/><text class="te" x="83" y="303">APC</text></g>
<g id="n-CYC" class="nd"><circle class="c7" cx="239" cy="267" r="4.5"/><text class="te" x="235" y="277">CYC</text></g>
<g id="n-SKA3" class="nd"><circle class="c8" cx="224" cy="302" r="4.5"/><text class="tm" x="221" y="296">SKA3</text></g>
<g id="n-SKP1" class="nd"><circle class="c1" cx="142" cy="333" r="4.5"/><text class="tm" x="125" y="331">SKP1</text></g>
<g id="n-SYAP1" class="nd"><circle class="c1" cx="97" cy="335" r="4.5"/><text class="te" x="91" y="339">SYAP1</text></g>
<g id="n-PSME1" class="nd"><circle class="c1" cx="178" cy="332" r="4.5"/><text class="tm" x="165" y="326">PSME1</text></g>
<g id="n-PSME2" class="nd"><circle class="c1" cx="188" cy="334" r="4.5"/><text class="tm" x="204" y="327">PSME2</text></g>
<g id="n-PSB4" class="nd"><circle class="c1" cx="165" cy="338" r="4.5"/><text class="tm" x="152" y="350">PSB4</text></g>
<g id="n-HSPB1" class="nd"><circle class="c1" cx="228" cy="333" r="4.5"/><text class="tm" x="237" y="347">HSPB1</text></g>
<g id="n-PSB2" class="nd"><circle class="c1" cx="188" cy="354" r="4.5"/><text x="193" y="358">PSB2</text></g>
<g id="n-PSA6" class="nd"><circle class="c1" cx="155" cy="363" r="4.5"/><text class="tm" x="138" y="362">PSA6</text></g>
<g id="n-PSA2" class="nd"><circle class="c1" cx="92" cy="368" r="4.5"/><text class="te" x="87" y="371">PSA2</text></g>
<g id="n-PSMD4" class="nd"><circle class="c1" cx="185" cy="371" r="4.5"/><text class="tm" x="167" y="384">PSMD4</text></g>
<g id="n-SC61B" class="nd"><circle class="c1" cx="211" cy="380" r="4.5"/><text class="tm" x="230" y="378">SC61B</text></g>
<g id="n-RD23B" class="nd"><circle class="c1" cx="192" cy="396" r="4.5"/><text class="te" x="186" y="400">RD23B</text></g>
<g id="n-SRP14" class="nd"><circle class="c1" cx="172" cy="418" r="4.5"/><text class="te" x="166" y="421">SRP14</text></g>
<g id="n-PSB1" class="nd"><circle class="c14" cx="221" cy="422" r="4.5"/><text class="te" x="217" y="426">PSB1</text></g>
<g id="n-SSRA" class="nd"><circle class="c1" cx="213" cy="442" r="4.5"/><text class="tm" x="208" y="454">SSRA</text></g>
<g id="n-UBXN1" class="nd"><circle class="c8" cx="187" cy="447" r="4.5"/><text class="te" x="182" y="451">UBXN1</text></g>
<g id="n-NP1L1" class="nd"><circle class="c13" cx="114" cy="418" r="4.5"/><text class="tm" x="98" y="411">NP1L1</text></g>
<g id="n-NP1L4" class="nd"><circle class="c13" cx="73" cy="429" r="4.5"/><text class="te" x="67" y="432">NP1L4</text></g>
<g id="n-NUCL" class="nd"><circle class="c13" cx="63" cy="459" r="4.5"/><text class="te" x="56" y="463">NUCL</text></g>
<g id="n-NPM" class="nd"><circle class="c13" cx="96" cy="457" r="4.5"/><text x="104" y="461">NPM</text></g>
<g id="n-STIM1" class="nd"><circle class="c1" cx="69" cy="227" r="4.5"/><text class="te" x="63" y="231">STIM1</text></g>
<g id="n-SF01" class="nd"><circle class="c1" cx="61" cy="197" r="4.5"/><text class="tm" x="62" y="190">SF01</text></g>
<g id="n-MAP1B" class="nd"><circle class="c1" cx="112" cy="193" r="4.5"/><text class="tm" x="112" y="186">MAP1B</text></g>
<g id="n-RAD50" class="nd"><circle class="c1" cx="163" cy="183" r="4.5"/><text class="tm" x="164" y="177">RAD50</text></g>
<g id="n-TP53B" class="nd"><circle class="c1" cx="170" cy="225" r="4.5"/><text class="tm" x="188" y="221">TP53B</text></g>
<g id="n-DYHC1" class="nd"><circle class="c1" cx="129" cy="233" r="4.5"/><text class="tm" x="145" y="228">DYHC1</text></g>
</g>

<g id="group-labels" class="grp">
<text x="99" y="68" fill="#D7802B">Protein folding</text><text x="99" y="87" fill="#D7802B">in cytoplasm</text>
<text x="228" y="31" fill="#1BA07A">RNA binding</text>
<text x="406" y="158" fill="#7F86E6">Innate immune</text><text x="406" y="176" fill="#7F86E6">signaling</text>
<text x="541" y="38" fill="#B48A1E">RNA splicing</text>
<text x="671" y="87" fill="#4FA12B">Nucleoside</text><text x="671" y="104" fill="#4FA12B">modification</text>
<text x="420" y="214" fill="#7D8B14">Cytoskeleton</text>
<text x="603" y="383" fill="#C08A1B">Glycolysis</text>
<text x="666" y="588" fill="#EE4FC8">Nuclear</text><text x="666" y="605" fill="#EE4FC8">membrane</text>
<text x="545" y="640" fill="#1E9DE3">Vesicle biogenesis</text><text x="547" y="658" fill="#1E9DE3">and fusion</text>
<text x="309" y="601" fill="#F06E6E">Vesicular</text><text x="309" y="618" fill="#F06E6E">trafficking</text>
<text x="162" y="633" fill="#1F9E31">Protein folding and</text><text x="162" y="652" fill="#1F9E31">processing in ER</text>
<text x="54" y="555" fill="#A07EEA">Nuclear import</text><text x="56" y="575" fill="#A07EEA">and chaperones</text>
</g>

<g id="panel-B">
<text class="ttl" x="121" y="735">8 hpi</text>
<text class="ttl" x="377" y="735">16 hpi</text>
<text class="ttl" x="621" y="735">24 hpi</text>

<g id="b8" transform="matrix(0.343 0 0 0.332 -14.9 741.4)">
<g fill="none" stroke="#d2d2d2" stroke-width="2"><use href="#ethin"/><use href="#ethick"/></g>
<use href="#gdots" fill="none" stroke="#bdbdbd" stroke-width="19.5" stroke-linecap="round"/>
<g class="bn">
<circle class="c5" cx="499" cy="92" r="10"/><circle class="c5" cx="529" cy="89" r="10"/>
<circle class="c6" cx="575" cy="118" r="10"/><circle class="c6" cx="599" cy="121" r="10"/>
<circle class="c16" cx="712" cy="252" r="10"/>
<circle class="c9" cx="558" cy="280" r="10"/><circle class="c9" cx="437" cy="399" r="10"/><circle class="c9" cx="412" cy="446" r="10"/><circle class="c9" cx="470" cy="474" r="10"/>
<circle class="c17" cx="676" cy="349" r="10"/>
<circle class="c11" cx="551" cy="416" r="10"/><circle class="c11" cx="594" cy="412" r="10"/><circle class="c11" cx="613" cy="414" r="10"/><circle class="c11" cx="589" cy="430" r="10"/><circle class="c11" cx="606" cy="437" r="10"/><circle class="c11" cx="636" cy="459" r="10"/>
<circle class="c7" cx="239" cy="267" r="10"/><circle class="c7" cx="274" cy="246" r="10"/><circle class="c7" cx="347" cy="264" r="10"/><circle class="c7" cx="376" cy="246" r="10"/><circle class="c7" cx="390" cy="277" r="10"/><circle class="c7" cx="380" cy="285" r="10"/><circle class="c7" cx="370" cy="288" r="10"/>
<circle class="c1" cx="188" cy="354" r="10"/>
<circle class="c10" cx="378" cy="472" r="10"/><circle class="c10" cx="396" cy="460" r="10"/><circle class="c10" cx="392" cy="494" r="10"/>
<circle class="c14" cx="221" cy="422" r="10"/><circle class="c14" cx="278" cy="484" r="10"/><circle class="c14" cx="248" cy="526" r="10"/><circle class="c14" cx="256" cy="533" r="10"/><circle class="c14" cx="227" cy="547" r="10"/><circle class="c14" cx="239" cy="564" r="10"/><circle class="c14" cx="228" cy="597" r="10"/>
<circle class="c8" cx="329" cy="545" r="10"/>
</g>
</g>

<g id="b16" transform="matrix(0.343 0 0 0.332 237.1 741.4)">
<g fill="none" stroke="#d2d2d2" stroke-width="2"><use href="#ethin"/><use href="#ethick"/></g>
<use href="#gdots" fill="none" stroke="#bdbdbd" stroke-width="19.5" stroke-linecap="round"/>
<g class="bn">
<circle class="c15" cx="441" cy="41" r="10"/>
<circle class="c2" cx="140" cy="119" r="10"/>
<circle class="c3" cx="263" cy="64" r="10"/><circle class="c3" cx="242" cy="82" r="10"/><circle class="c3" cx="243" cy="109" r="10"/><circle class="c3" cx="277" cy="113" r="10"/><circle class="c3" cx="258" cy="131" r="10"/><circle class="c3" cx="324" cy="47" r="10"/><circle class="c3" cx="428" cy="89" r="10"/><circle class="c3" cx="436" cy="108" r="10"/>
<circle class="c4" cx="308" cy="154" r="10"/>
<circle class="c5" cx="475" cy="78" r="10"/><circle class="c5" cx="507" cy="66" r="10"/><circle class="c5" cx="499" cy="92" r="10"/><circle class="c5" cx="488" cy="119" r="10"/>
<circle class="c6" cx="575" cy="118" r="10"/><circle class="c6" cx="620" cy="139" r="10"/>
<circle class="c10" cx="596" cy="193" r="10"/><circle class="c10" cx="617" cy="193" r="10"/><circle class="c10" cx="639" cy="182" r="10"/><circle class="c10" cx="662" cy="168" r="10"/><circle class="c10" cx="636" cy="254" r="10"/><circle class="c10" cx="673" cy="286" r="10"/><circle class="c10" cx="187" cy="476" r="10"/><circle class="c10" cx="368" cy="476" r="10"/><circle class="c10" cx="378" cy="472" r="10"/><circle class="c10" cx="396" cy="460" r="10"/><circle class="c10" cx="392" cy="494" r="10"/><circle class="c10" cx="434" cy="487" r="10"/><circle class="c10" cx="551" cy="534" r="10"/>
<circle class="c9" cx="672" cy="221" r="10"/><circle class="c9" cx="691" cy="208" r="10"/><circle class="c9" cx="390" cy="422" r="10"/><circle class="c9" cx="424" cy="421" r="10"/><circle class="c9" cx="412" cy="446" r="10"/><circle class="c9" cx="512" cy="331" r="10"/><circle class="c9" cx="569" cy="338" r="10"/><circle class="c9" cx="541" cy="262" r="10"/><circle class="c9" cx="418" cy="598" r="10"/><circle class="c9" cx="418" cy="628" r="10"/><circle class="c9" cx="429" cy="650" r="10"/><circle class="c9" cx="454" cy="656" r="10"/>
<circle class="c16" cx="712" cy="252" r="10"/><circle class="c16" cx="718" cy="270" r="10"/>
<circle class="c17" cx="676" cy="349" r="10"/>
<circle class="c19" cx="715" cy="386" r="10"/>
<circle class="c13" cx="701" cy="453" r="10"/><circle class="c13" cx="675" cy="496" r="10"/><circle class="c13" cx="114" cy="418" r="10"/><circle class="c13" cx="63" cy="459" r="10"/><circle class="c13" cx="96" cy="457" r="10"/>
<circle class="c7" cx="259" cy="212" r="10"/><circle class="c7" cx="274" cy="246" r="10"/><circle class="c7" cx="239" cy="267" r="10"/><circle class="c7" cx="349" cy="222" r="10"/><circle class="c7" cx="414" cy="239" r="10"/><circle class="c7" cx="470" cy="240" r="10"/><circle class="c7" cx="360" cy="281" r="10"/><circle class="c7" cx="370" cy="288" r="10"/><circle class="c7" cx="380" cy="285" r="10"/><circle class="c7" cx="390" cy="277" r="10"/><circle class="c7" cx="322" cy="310" r="10"/>
<circle class="c1" cx="112" cy="193" r="10"/><circle class="c1" cx="69" cy="227" r="10"/><circle class="c1" cx="143" cy="247" r="10"/><circle class="c1" cx="112" cy="286" r="10"/><circle class="c1" cx="137" cy="273" r="10"/><circle class="c1" cx="97" cy="335" r="10"/><circle class="c1" cx="92" cy="368" r="10"/><circle class="c1" cx="155" cy="363" r="10"/><circle class="c1" cx="228" cy="333" r="10"/><circle class="c1" cx="211" cy="380" r="10"/><circle class="c1" cx="258" cy="268" r="10"/>
<circle class="c8" cx="272" cy="347" r="10"/><circle class="c8" cx="298" cy="388" r="10"/><circle class="c8" cx="250" cy="424" r="10"/><circle class="c8" cx="290" cy="418" r="10"/><circle class="c8" cx="364" cy="409" r="10"/><circle class="c8" cx="333" cy="453" r="10"/><circle class="c8" cx="329" cy="505" r="10"/><circle class="c8" cx="329" cy="545" r="10"/>
<circle class="c14" cx="262" cy="472" r="10"/><circle class="c14" cx="278" cy="484" r="10"/><circle class="c14" cx="228" cy="511" r="10"/><circle class="c14" cx="226" cy="523" r="10"/><circle class="c14" cx="248" cy="526" r="10"/><circle class="c14" cx="256" cy="533" r="10"/><circle class="c14" cx="227" cy="547" r="10"/><circle class="c14" cx="198" cy="574" r="10"/><circle class="c14" cx="228" cy="597" r="10"/>
</g>
</g>

<g id="b24" transform="matrix(0.343 0 0 0.332 489.1 741.4)">
<g fill="none" stroke="#d2d2d2" stroke-width="2"><use href="#ethin"/><use href="#ethick"/></g>
<use href="#nodes" style="--r:10px;--sw:2;--fs:0px"/>
<g fill="#bdbdbd">
<circle cx="499" cy="92" r="11.5"/><circle cx="529" cy="89" r="11.5"/><circle cx="239" cy="267" r="11.5"/><circle cx="376" cy="246" r="11.5"/><circle cx="92" cy="368" r="11.5"/><circle cx="155" cy="363" r="11.5"/><circle cx="221" cy="422" r="11.5"/><circle cx="226" cy="523" r="11.5"/><circle cx="662" cy="168" r="11.5"/><circle cx="672" cy="221" r="11.5"/><circle cx="551" cy="416" r="11.5"/><circle cx="594" cy="412" r="11.5"/><circle cx="589" cy="430" r="11.5"/><circle cx="606" cy="437" r="11.5"/><circle cx="636" cy="459" r="11.5"/>
</g>
</g>
</g>
</svg>
